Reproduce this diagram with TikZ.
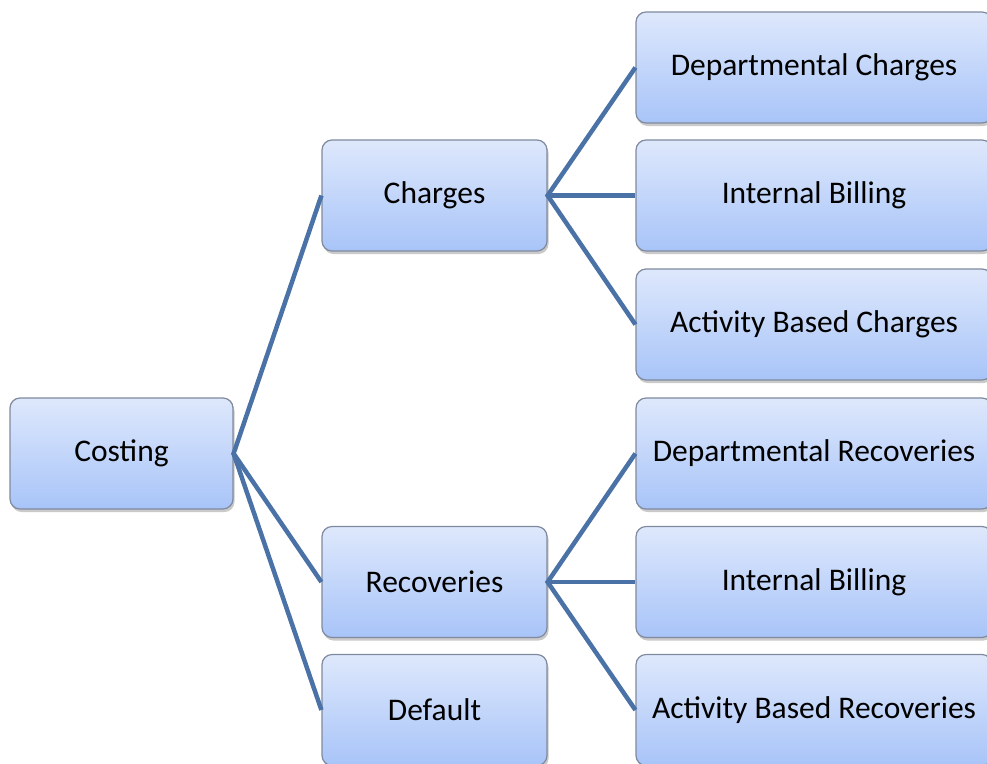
\documentclass[tikz,border=0pt]{standalone}
\usepackage{fontspec}
\setmainfont{Carlito}
\usetikzlibrary{shadows}
\definecolor{boxtop}{RGB}{222,232,252}
\definecolor{boxbot}{RGB}{168,196,248}
\definecolor{boxline}{RGB}{128,138,158}
\definecolor{linkcol}{RGB}{74,114,166}
\tikzset{
  box/.style={draw=boxline, line width=1.2pt, rounded corners=10pt,
    top color=boxtop, bottom color=boxbot, minimum height=111pt,
    inner sep=0pt, font=\fontsize{31.5}{36}\selectfont, text=black,
    drop shadow={shadow xshift=1.5pt, shadow yshift=-3pt, opacity=0.35, fill=black!60}},
  midbox/.style={box, minimum width=225pt},
  rbox/.style={box, minimum width=356pt},
  link/.style={draw=linkcol, line width=4.5pt}
}
\begin{document}
\begin{tikzpicture}[x=1pt,y=-1pt]
\clip (0,0) rectangle (987,763);
\node[box, minimum width=223pt] (cost) at (121.5,453.5) {Costing};
\node[midbox] (chg) at (434.5,195.5) {Charges};
\node[midbox] (rec) at (434.5,582) {Recoveries};
\node[midbox] (def) at (434.5,710) {Default};
\node[rbox] (dc) at (814,67.5) {Departmental Charges};
\node[rbox] (ib1) at (814,195.5) {Internal Billing};
\node[rbox] (abc) at (814,324.5) {Activity Based Charges};
\node[rbox] (dr) at (814,453.5) {Departmental Recoveries};
\node[rbox] (ib2) at (814,582) {Internal Billing};
\node[rbox] (abr) at (814,710) {Activity Based Recoveries};
\draw[link] (chg.west) -- (cost.east) -- (rec.west);
\draw[link] (cost.east) -- (def.west);
\draw[link] (dc.west) -- (chg.east) -- (abc.west);
\draw[link] (chg.east) -- (ib1.west);
\draw[link] (dr.west) -- (rec.east) -- (abr.west);
\draw[link] (rec.east) -- (ib2.west);
\end{tikzpicture}
\end{document}
